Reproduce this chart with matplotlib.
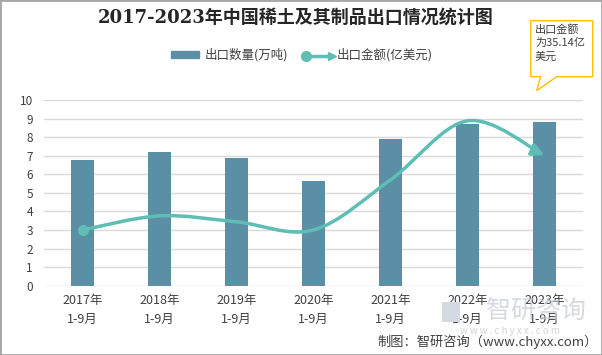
import matplotlib
matplotlib.use('Agg')
import matplotlib.pyplot as plt
from matplotlib.path import Path
from matplotlib.patches import FancyArrowPatch, Rectangle, Polygon
from matplotlib.lines import Line2D
from matplotlib.legend_handler import HandlerBase

plt.rcParams['font.family'] = ['Noto Sans CJK SC', 'DejaVu Sans']

years = ['2017年', '2018年', '2019年', '2020年', '2021年', '2022年', '2023年']
period = '1-9月'
quantity = [6.77, 7.2, 6.88, 5.64, 7.9, 8.71, 8.82]      # 万吨
amount = [15.0, 18.8, 17.2, 15.0, 28.5, 44.4, 35.14]     # 亿美元

bar_color = '#5B8FA6'
line_color = '#5EBDB4'
W, H = 602, 355

fig = plt.figure(figsize=(W / 100, H / 100), dpi=100)
ax = fig.add_axes([44 / W, 1 - 285.7 / H, (583 - 44) / W, (285.7 - 100) / H])
ax2 = ax.twinx()

x = list(range(len(years)))
ax.bar(x, quantity, width=0.31, color=bar_color, zorder=2)
ax.set_xlim(-0.5, len(years) - 0.5)
ax.set_ylim(0, 10)
ax.set_yticks(range(0, 11))
ax.grid(axis='y', color='#D9D9D9', linewidth=1, zorder=0)
ax.set_axisbelow(True)
for s in ax.spines.values():
    s.set_visible(False)
for s in ax2.spines.values():
    s.set_visible(False)
ax.tick_params(axis='both', length=0, colors='#404040')
ax.tick_params(axis='y', labelsize=8.5, pad=8)
ax.tick_params(axis='x', labelsize=9, pad=6)
ax.set_xticks(x)
ax.set_xticklabels(['{}\n{}'.format(y, period) for y in years], linespacing=1.6)

# smoothed amount line on hidden secondary axis
ax2.set_ylim(0, 50)
ax2.set_yticks([])
pts = list(zip(x, amount))
verts = [pts[0]]
codes = [Path.MOVETO]
for i in range(len(pts) - 1):
    p0 = pts[max(i - 1, 0)]
    p1 = pts[i]
    p2 = pts[i + 1]
    p3 = pts[min(i + 2, len(pts) - 1)]
    c1 = (p1[0] + (p2[0] - p0[0]) / 6, p1[1] + (p2[1] - p0[1]) / 6)
    c2 = (p2[0] - (p3[0] - p1[0]) / 6, p2[1] - (p3[1] - p1[1]) / 6)
    verts += [c1, c2, p2]
    codes += [Path.CURVE4] * 3
curve = FancyArrowPatch(path=Path(verts, codes), arrowstyle='-|>,head_length=0.6,head_width=0.3',
                        mutation_scale=12, color=line_color, lw=2.5, zorder=4)
ax2.add_patch(curve)
ax2.plot(x[0], amount[0], 'o', color=line_color, markersize=7, zorder=5)


class ArrowLineHandler(HandlerBase):
    def create_artists(self, legend, orig_handle, xd, yd, width, height, fontsize, trans):
        yc = yd + height / 2
        ln = Line2D([xd, xd + width], [yc, yc], color=line_color, lw=2.5, transform=trans)
        dot = Line2D([xd + 2], [yc], marker='o', color=line_color, markersize=7, transform=trans)
        tip = Line2D([xd + width], [yc], marker='>', color=line_color, markersize=6, transform=trans)
        return [ln, dot, tip]


bar_handle = Rectangle((0, 0), 1, 1, color=bar_color)
line_handle = Line2D([], [])
fig.legend([bar_handle, line_handle], ['出口数量(万吨)', '出口金额(亿美元)'],
           handler_map={Line2D: ArrowLineHandler()},
           loc='center', bbox_to_anchor=(0.501, 1 - 55 / H), ncol=2, frameon=False,
           fontsize=9, handlelength=2.3, handleheight=0.5, columnspacing=1.2,
           handletextpad=0.4, labelcolor='#404040')

fig.text(0.492, 1 - 18 / H, '2017-2023年中国稀土及其制品出口情况统计图',
         ha='center', va='center', fontsize=13, fontweight='bold',
         family=['DejaVu Serif', 'Noto Sans CJK SC'], color='#262626')

# callout
box = [(530.7, 20.7), (592.7, 20.7), (592.7, 76.7), (556.7, 76.7),
       (536.7, 90.7), (540.5, 76.7), (530.7, 76.7)]
fig.patches.append(Polygon([(px / W, 1 - py / H) for px, py in box], closed=True,
                           transform=fig.transFigure, facecolor='white',
                           edgecolor='#FFC000', lw=1, zorder=6))
fig.text(535 / W, 1 - 24 / H, '出口金额\n为35.14亿\n美元', ha='left', va='top',
         fontsize=8, linespacing=1.4, color='#404040', zorder=7)

# watermark
fig.text(536 / W, 1 - 311 / H, '智研咨询', ha='center', va='center', fontsize=18,
         color='#C5CAD3', alpha=0.7, zorder=1)
fig.text(510 / W, 1 - 331 / H, 'w w w . c h y x x . c o m', ha='center', va='center',
         fontsize=7, color='#D3D3D3', zorder=1)
fig.patches.append(Rectangle((442 / W, 1 - 322 / H), 18 / W, 20 / H, transform=fig.transFigure,
                             facecolor='#D5DAE2', edgecolor='none', zorder=1))

fig.text(598 / W, 1 - 342 / H, '制图：智研咨询（www.chyxx.com）', ha='right', va='center',
         fontsize=9.5, color='#404040')

fig.patches.append(Rectangle((0, 0), 1, 1, transform=fig.transFigure, fill=False,
                             edgecolor='#A6A6A6', lw=2))

fig.savefig('out.png', dpi=100)
